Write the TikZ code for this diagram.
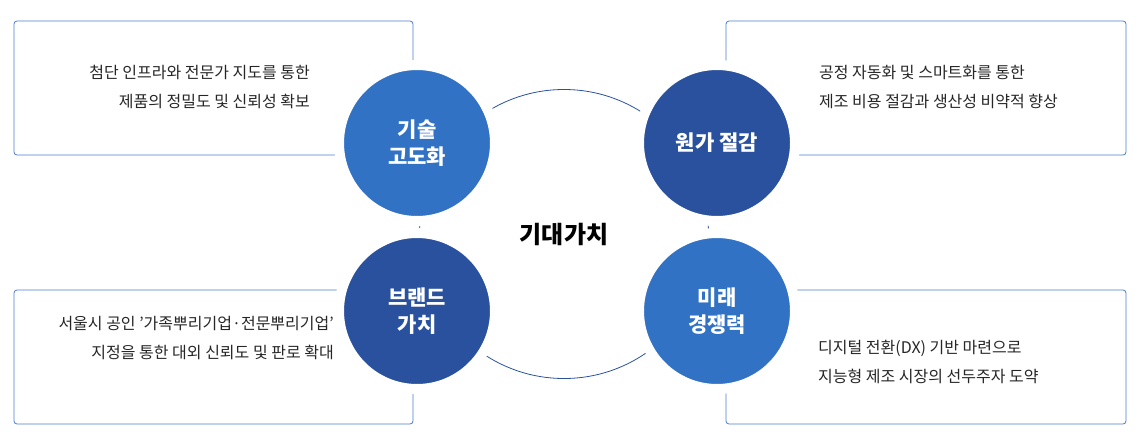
\documentclass[tikz,border=0pt]{standalone}
\usepackage{fontspec}
\setmainfont{Noto Sans CJK KR}
\usetikzlibrary{positioning}
\definecolor{lightblue}{HTML}{3272C5}
\definecolor{darkblue}{HTML}{2A519D}
\definecolor{rimblue}{HTML}{4A7CC9}
\tikzset{
  box/.style={draw=rimblue, line width=0.8pt, rounded corners=3pt},
  item/.style={circle, minimum size=156pt, inner sep=0pt, draw=white, line width=10pt, text=white, font=\fontsize{21}{27}\selectfont\bfseries, align=center},
  desc/.style={font=\fontsize{16}{29}\selectfont, text=black!85, inner sep=0pt}
}
\begin{document}
\begin{tikzpicture}[x=1pt,y=-1pt]
  \useasboundingbox (0,0) rectangle (1138,442);
  % frames
  \draw[box] (14,21) rectangle (413,155);
  \draw[box] (726,21) rectangle (1126,155);
  \draw[box] (14,290) rectangle (413,424);
  \draw[box] (726,290) rectangle (1126,424);
  % ring
  \coordinate (mid) at (564,234);
  \draw[darkblue, line width=0.8pt] (mid) circle (144.5pt);
  % circles
  \node[item, fill=lightblue] (tech) at (417,143) {기술\\고도화};
  \node[item, fill=darkblue] (cost) at (717,143) {원가 절감};
  \node[item, fill=darkblue] (brand) at (417,311) {브랜드\\가치};
  \node[item, fill=lightblue] (future) at (717,311) {미래\\경쟁력};
  \node[font=\fontsize{24}{28}\selectfont\bfseries] (value) at (mid) {기대가치};
  % texts
  \node[desc, anchor=east, align=right] (techtxt) at (310,87) {첨단 인프라와 전문가 지도를 통한\\제품의 정밀도 및 신뢰성 확보};
  \node[desc, anchor=west, align=left] (costtxt) at (819,87) {공정 자동화 및 스마트화를 통한\\제조 비용 절감과 생산성 비약적 향상};
  \node[desc, anchor=east, align=right] (brandtxt) at (334,338) {서울시 공인 {\char39}가족뿌리기업·전문뿌리기업{\char39}\\지정을 통한 대외 신뢰도 및 판로 확대};
  \node[desc, anchor=west, align=left] (futuretxt) at (818,362) {디지털 전환(DX) 기반 마련으로\\지능형 제조 시장의 선두주자 도약};
\end{tikzpicture}
\end{document}
